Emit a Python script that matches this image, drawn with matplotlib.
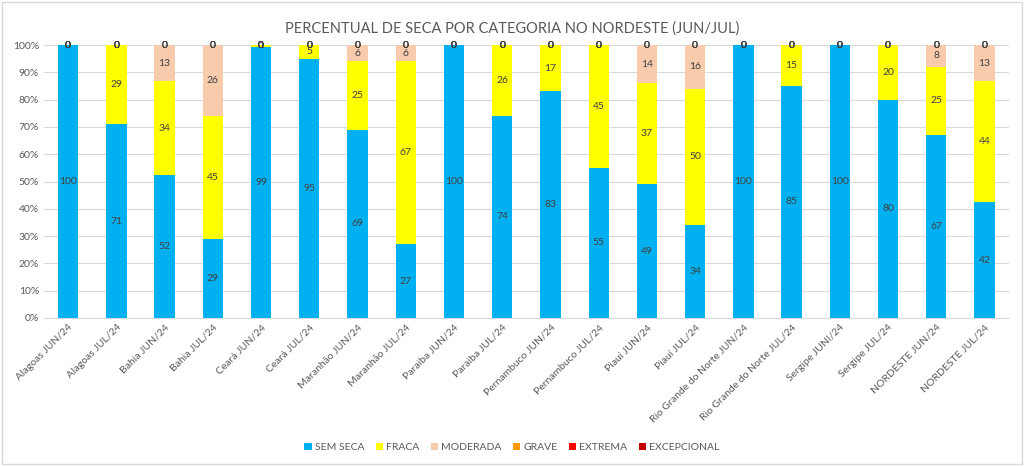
import matplotlib.pyplot as plt
import matplotlib.patches as mpatches
import numpy as np
from matplotlib.ticker import PercentFormatter

plt.rcParams["font.family"] = ["Lato", "DejaVu Sans"]

CATEGORIES = [
    "Alagoas JUN/24", "Alagoas JUL/24", "Bahia JUN/24", "Bahia JUL/24",
    "Ceará JUN/24", "Ceará JUL/24", "Maranhão JUN/24", "Maranhão JUL/24",
    "Paraiba JUN/24", "Paraiba JUL/24", "Pernambuco JUN/24", "Pernambuco JUL/24",
    "Piauí JUN/24", "Piauí JUL/24", "Rio Grande do Norte JUN/24",
    "Rio Grande do Norte JUL/24", "Sergipe JUNI/24", "Sergipe JUL/24",
    "NORDESTE JUN/24", "NORDESTE JUL/24",
]

SEM_SECA = [100, 71, 52.4, 29, 99.3, 95, 69, 27, 100, 74, 83, 55, 49, 34, 100, 85, 100, 80, 67, 42.4]
FRACA = [0, 29, 34.4, 45, 0.7, 5, 25, 67, 0, 26, 17, 45, 37, 50, 0, 15, 0, 20, 25, 44.4]
MODERADA = [0, 0, 13.2, 26, 0, 0, 6, 6, 0, 0, 0, 0, 14, 16, 0, 0, 0, 0, 8, 13.2]
GRAVE = [0] * 20
EXTREMA = [0] * 20
EXCEPCIONAL = [0] * 20

SERIES = [
    ("SEM SECA", SEM_SECA, "#00B0F0"),
    ("FRACA", FRACA, "#FFFF00"),
    ("MODERADA", MODERADA, "#F8CBAD"),
    ("GRAVE", GRAVE, "#FF9900"),
    ("EXTREMA", EXTREMA, "#FF0000"),
    ("EXCEPCIONAL", EXCEPCIONAL, "#C00000"),
]

TEXT_GRAY = "#595959"

fig = plt.figure(figsize=(10.24, 4.66), dpi=100)
ax = fig.add_axes([0.043, 0.3176, 0.942, 0.5858])

x = np.arange(len(CATEGORIES))
bottom = np.zeros(len(CATEGORIES))
for name, vals, color in SERIES:
    vals = np.array(vals, dtype=float)
    bars = ax.bar(x, vals, width=0.42, bottom=bottom, color=color, label=name, zorder=2)
    ax.bar_label(bars, labels=[f"{v:.0f}" for v in vals], label_type="center",
                 fontsize=7.5, color="#404040", zorder=3)
    bottom += vals

ax.set_xlim(-0.5, len(CATEGORIES) - 0.5)
ax.set_ylim(0, 100)
ax.set_yticks(np.arange(0, 101, 10))
ax.yaxis.set_major_formatter(PercentFormatter(decimals=0))
ax.grid(axis="y", color="#D9D9D9", linewidth=0.8, zorder=0)
for side in ["top", "right", "left"]:
    ax.spines[side].set_visible(False)
ax.spines["bottom"].set_color("#D9D9D9")
ax.tick_params(axis="both", length=0, labelsize=7.5, labelcolor=TEXT_GRAY)
ax.set_xticks(x)
ax.set_xticklabels(CATEGORIES, rotation=45, ha="right", rotation_mode="anchor")

fig.suptitle("PERCENTUAL DE SECA POR CATEGORIA NO NORDESTE (JUN/JUL)",
             y=0.955, fontsize=10.5, color=TEXT_GRAY)

fig.legend(*ax.get_legend_handles_labels(), loc="center", bbox_to_anchor=(0.5, 0.04),
           ncol=6, frameon=False, fontsize=7.5, labelcolor=TEXT_GRAY,
           handlelength=0.7, handleheight=0.7, handletextpad=0.3, columnspacing=1.1)

fig.patches.append(mpatches.Rectangle((0.002, 0.004), 0.996, 0.992, transform=fig.transFigure,
                                      fill=False, edgecolor="#D9D9D9", linewidth=1.0))

fig.savefig("out.png", dpi=100)
plt.close(fig)
